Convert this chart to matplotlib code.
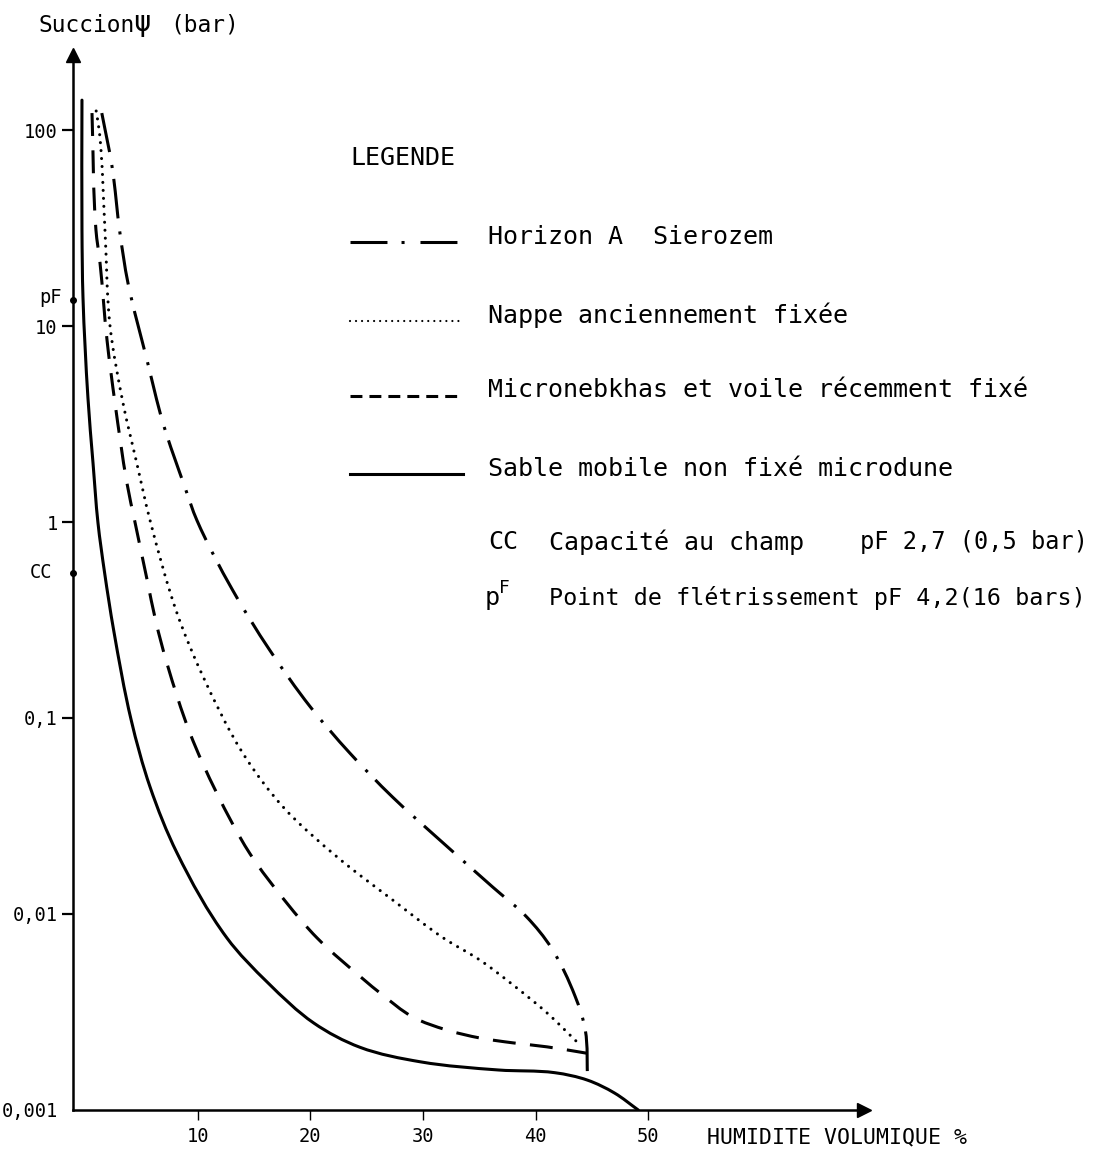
import matplotlib
matplotlib.use("Agg")
import matplotlib.pyplot as plt
import numpy as np
from matplotlib.path import Path
from matplotlib.patches import PathPatch

plt.rcParams['font.family'] = ['DejaVu Sans Mono', 'DejaVu Sans']

# ---------------- data ----------------
# Sable mobile non fixé microdune (solid)
sable_x = [-0.26, -0.26, -0.17, 0.27, 0.72, 1.16, 1.75, 2.55, 4.1, 5.78, 8.17,
           12.6, 16.25, 20.3, 24.4, 29.8, 36.7, 41.7, 44.6, 47.0, 49.1]
sable_y = [142, 30.9, 14, 4.3, 2.0, 0.99, 0.55, 0.281, 0.098, 0.0445, 0.0205,
           0.00755, 0.00445, 0.00278, 0.00209, 0.00176, 0.0016, 0.00155, 0.00142,
           0.00122, 0.001]

# Micronebkhas et voile récemment fixé (dashed)
micro_x = [0.63, 0.98, 1.34, 1.96, 2.67, 3.73, 4.44, 5.51, 6.3, 7.28, 9.32, 11.7,
           14.6, 17.9, 20.6, 24.8, 26.2, 29.1, 32.1, 35.05, 38.0, 41.0, 44.5]
micro_y = [122, 30.9, 21, 8.5, 4.05, 1.58, 1.0, 0.51, 0.31, 0.19, 0.0838,
           0.0414, 0.0205, 0.0114, 0.00755, 0.0046, 0.00395, 0.00298, 0.00256,
           0.00233, 0.0022, 0.0021, 0.00195]

# Nappe anciennement fixée (dotted)
nappe_x = [1.0, 1.3, 1.78, 2.23, 3.38, 4.6, 5.78, 8.17, 10.5, 14.0, 17.6, 22.4,
           27.3, 31.8, 35.05, 38.0, 41.0, 43.75]
nappe_y = [125, 96, 30.9, 10, 4.05, 2.0, 1.02, 0.343, 0.162, 0.0663, 0.0351,
           0.0195, 0.0118, 0.00755, 0.00582, 0.00434, 0.00313, 0.0022]

# Horizon A Sierozem (dash-dot)
horiz_x = [1.5, 2.41, 3.11, 3.82, 5.51, 6.93, 8.88, 9.94, 13.1, 16.4, 20.0, 23.5,
           27.3, 31.8, 36.2, 39.2, 41.4, 43.5, 44.4, 44.6]
horiz_y = [122, 65, 29.8, 16.6, 6.7, 3.2, 1.5, 1.02, 0.45, 0.222, 0.114, 0.0663,
           0.0395, 0.023, 0.0137, 0.00966, 0.0067, 0.0038, 0.00256, 0.00142]

x_ticks = [10, 20, 30, 40, 50]
y_ticks = [100, 10, 1, 0.1, 0.01, 0.001]
y_tick_labels = ["100", "10", "1", "0,1", "0,01", "0,001"]
pF_value = 13.6
CC_value = 0.55

legend_labels = ["Horizon A  Sierozem", "Nappe anciennement fixée",
                 "Micronebkhas et voile récemment fixé",
                 "Sable mobile non fixé microdune"]

# ---------------- figure ----------------
W, H = 1110, 1149
fig = plt.figure(figsize=(W / 100, H / 100), dpi=100)
fig.patch.set_facecolor('white')

left_px, right_px, top_px, bot_px = 73, 864, 55, 1110
X_PER_UNIT, PX_PER_DECADE = 11.27, 196.0
ax = fig.add_axes([left_px / W, 1 - bot_px / H, (right_px - left_px) / W,
                   (bot_px - top_px) / H])
ax.set_yscale('log')
ax.set_xlim((left_px - 84.9) / X_PER_UNIT, (right_px - 84.9) / X_PER_UNIT)
ax.set_ylim(0.001, 10 ** (2 + (130 - top_px) / PX_PER_DECADE))
ax.patch.set_alpha(0)

for s in ['top', 'right']:
    ax.spines[s].set_visible(False)
for s in ['left', 'bottom']:
    ax.spines[s].set_linewidth(1.8)
    ax.spines[s].set_color('black')

# arrow heads
ax.plot([1], [0], marker='>', ms=10, color='k', transform=ax.transAxes,
        clip_on=False)
ax.plot([0], [1], marker='^', ms=10, color='k', transform=ax.transAxes,
        clip_on=False)

ax.set_xticks(x_ticks)
ax.set_xticklabels([str(v) for v in x_ticks], fontsize=13.5)
ax.tick_params(axis='x', direction='out', length=7, width=1.0, pad=5)
ax.set_yticks(y_ticks)
ax.set_yticklabels(y_tick_labels, fontsize=13.5)
ax.tick_params(axis='y', direction='out', length=8, width=1.6, pad=3)
ax.minorticks_off()
ax.yaxis.get_major_ticks()[-1].tick1line.set_visible(False)


def smooth_path(xs, ys):
    """Smooth Bezier path through the read points (in x / log10 y space)."""
    S = np.array([X_PER_UNIT, PX_PER_DECADE])
    P = np.column_stack([np.asarray(xs, float), np.log10(ys)]) * S
    n = len(P)
    T = np.zeros_like(P)
    for i in range(n):
        if i == 0:
            d = P[1] - P[0]
        elif i == n - 1:
            d = P[-1] - P[-2]
        else:
            a = P[i] - P[i - 1]
            b = P[i + 1] - P[i]
            d = a / np.linalg.norm(a) + b / np.linalg.norm(b)
        T[i] = d / np.linalg.norm(d)
    verts = [P[0]]
    codes = [Path.MOVETO]
    for i in range(n - 1):
        L = np.linalg.norm(P[i + 1] - P[i]) / 3.0
        verts += [P[i] + T[i] * L, P[i + 1] - T[i + 1] * L, P[i + 1]]
        codes += [Path.CURVE4] * 3
    verts = np.array(verts) / S
    verts[:, 1] = 10 ** verts[:, 1]
    return Path(verts, codes)


lw = 2.2
series = [
    (sable_x, sable_y, dict(ls='-', capstyle='round', joinstyle='round')),
    (micro_x, micro_y, dict(ls=(0, (7.5, 4.7)))),
    (nappe_x, nappe_y, dict(ls=(0, (0.01, 2.6)), capstyle='round')),
    (horiz_x, horiz_y, dict(ls=(0, (13, 4.3, 1, 3.6)))),
]
for xs, ys, st in series:
    ax.add_patch(PathPatch(smooth_path(xs, ys), fill=False, edgecolor='k',
                           lw=lw, **st))

# pF and CC markers on the axis
ax.plot([0, 0], [pF_value, CC_value], 'o', ms=4, color='k',
        transform=ax.get_yaxis_transform(), clip_on=False)
ax.annotate("pF", xy=(0, pF_value), xycoords=('axes fraction', 'data'),
            xytext=(-8, 2), textcoords='offset points', ha='right', va='center',
            fontsize=13.5)
ax.annotate("CC", xy=(0, CC_value), xycoords=('axes fraction', 'data'),
            xytext=(-15, 0), textcoords='offset points', ha='right', va='center',
            fontsize=13.5)

# ---------------- overlay for titles and legend ----------------
ov = fig.add_axes([0, 0, 1, 1])
ov.set_xlim(0, W)
ov.set_ylim(H, 0)
ov.axis('off')
ov.patch.set_alpha(0)

ov.text(38, 25, "Succion", fontsize=16.5, ha='left', va='center')
ov.text(133, 23, "ψ", fontsize=21, ha='left', va='center')
ov.text(170, 25, "(bar)", fontsize=16.5, ha='left', va='center')
ov.text(707, 1137, "HUMIDITE VOLUMIQUE %", fontsize=15.5, ha='left',
        va='center')

ov.text(350, 158, "LEGENDE", fontsize=18, ha='left', va='center')
text_x = 488
rows_y = [237, 315, 390, 469]
line_y = [242, 321, 396, 474]
styles = [dict(ls=(0, (12.1, 4.6, 1, 5.2)), lw=2.2),
          dict(ls=(0, (0.01, 2.7)), lw=1.6, dash_capstyle='round'),
          dict(ls=(0, (3.9, 2.3)), lw=2.2),
          dict(ls='-', lw=2.2)]
for lab, ty, ly, st in zip(legend_labels, rows_y, line_y, styles):
    ov.plot([350, 463], [ly, ly], color='k', **st)
    ov.text(text_x, ty, lab, fontsize=18, ha='left', va='center')

ov.text(488, 542, "CC", fontsize=18, ha='left', va='center')
ov.text(549, 542, "Capacité au champ", fontsize=18, ha='left', va='center')
ov.text(860, 542, "pF 2,7 (0,5 bar)", fontsize=17, ha='left', va='center')
ov.text(485, 598, "p", fontsize=18, ha='left', va='center')
ov.text(499, 588, "F", fontsize=13, ha='left', va='center')
ov.text(549, 598, "Point de flétrissement pF 4,2(16 bars)", fontsize=16.8,
        ha='left', va='center')

fig.savefig("out.png", dpi=100, facecolor='white')
